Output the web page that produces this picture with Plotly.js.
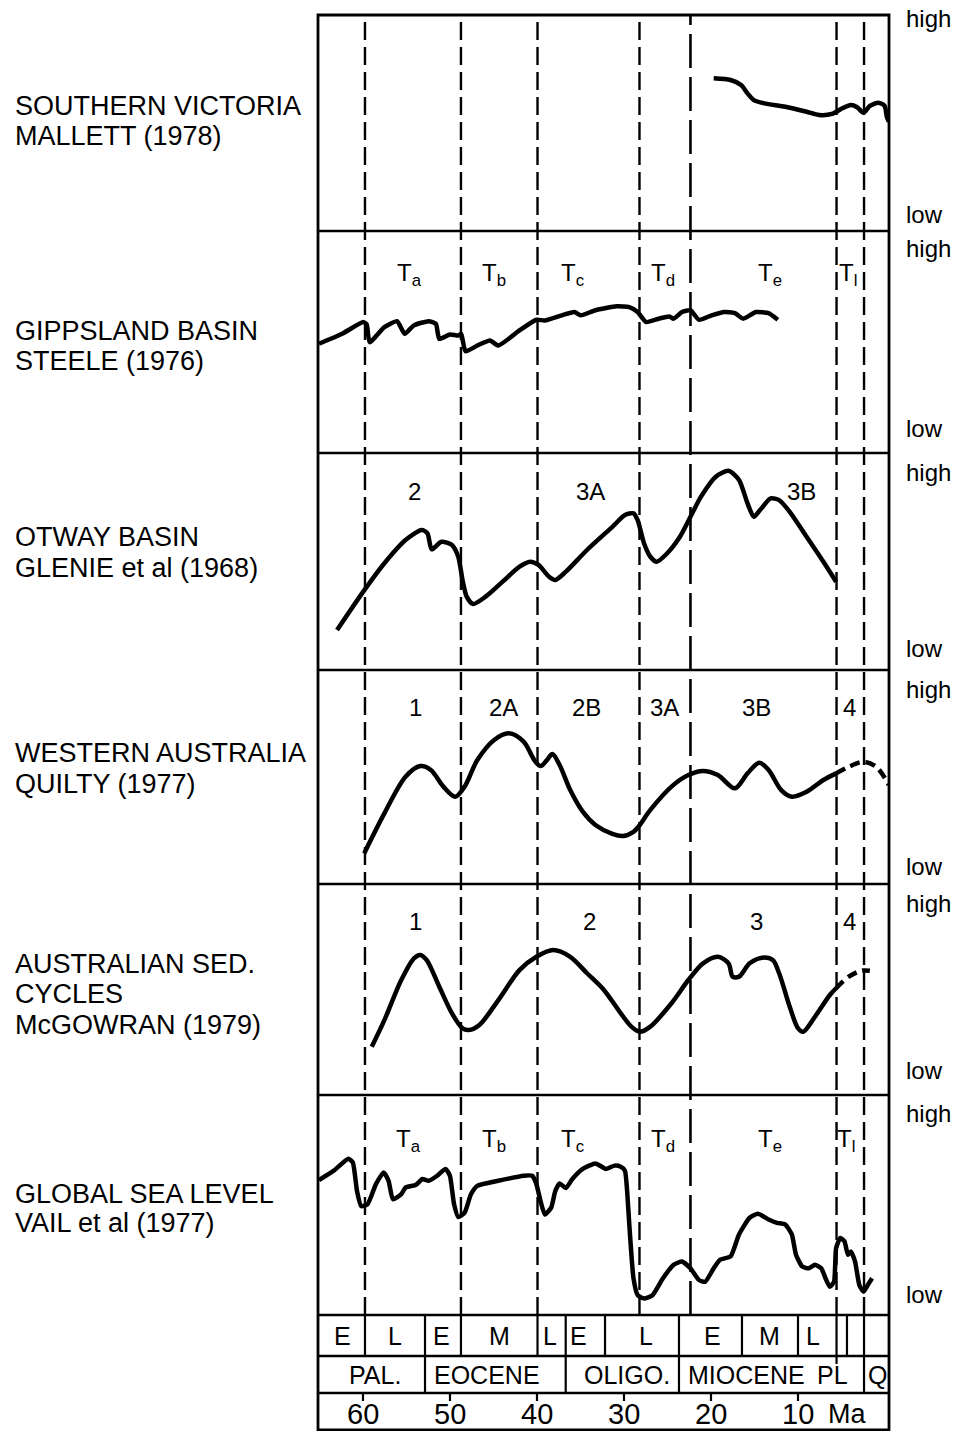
<!DOCTYPE html>
<html>
<head>
<meta charset="utf-8">
<script src="https://cdn.plot.ly/plotly-3.0.1.min.js"></script>
<style>
  html, body { margin: 0; padding: 0; background: #fff; }
  #chart { width: 962px; height: 1431px; }
</style>
</head>
<body>
<div id="chart"></div>
<script>
// ---------------- DATA (age in Ma, relative level 0 = low, 100 = high) ----------------
const southernVictoria = [[19.69,70.7],[17.75,69.9],[16.54,67.6],[15.80,63.7],[15.08,60.6],[13.87,59.1],[11.45,57.5],[9.01,55.2],[7.56,53.7],[6.10,54.2],[4.90,56.8],[3.92,58.3],[3.20,57.3],[2.47,54.8],[1.74,57.9],[0.77,59.4],[0.05,57.9],[-0.21,52.9],[-0.45,50.6]];

const gippsland = [[65.06,49.2],[62.39,53.7],[59.97,59.0],[59.57,57.9],[59.24,49.9],[57.54,56.7],[56.08,59.4],[55.21,53.7],[54.14,57.5],[52.45,59.4],[51.62,58.2],[51.23,51.4],[50.01,53.4],[49.05,52.9],[48.71,53.7],[48.22,45.8],[46.86,48.4],[45.40,50.7],[44.44,48.4],[42.01,55.2],[40.07,60.0],[39.10,59.7],[37.16,62.0],[35.70,63.5],[34.98,62.0],[33.28,64.3],[30.85,66.1],[29.39,65.7],[28.43,63.5],[27.46,59.0],[26.00,60.5],[24.78,61.5],[24.30,60.5],[23.33,63.5],[22.36,64.3],[21.39,60.0],[19.93,62.0],[18.48,63.5],[17.26,63.0],[16.30,60.5],[14.84,63.5],[13.38,63.0],[12.32,60.0]];

const otway = [[62.98,18.4],[59.97,36.1],[57.54,49.2],[55.11,59.9],[53.26,64.5],[52.59,63.0],[52.10,55.6],[50.99,59.1],[49.77,57.6],[49.05,52.2],[48.56,41.5],[48.08,33.8],[47.34,30.4],[45.90,33.8],[43.95,40.7],[42.01,47.6],[40.79,49.9],[39.83,48.4],[38.61,43.0],[37.89,41.5],[36.68,45.3],[34.25,55.3],[31.33,66.0],[29.89,71.4],[28.91,72.2],[28.43,69.1],[27.70,58.4],[26.97,52.2],[26.24,49.9],[25.03,53.8],[23.57,61.4],[22.36,70.6],[21.15,79.9],[19.45,89.1],[17.99,91.8],[16.78,87.6],[15.80,76.8],[15.08,70.6],[14.36,73.7],[13.14,79.1],[12.17,78.3],[10.95,72.9],[9.01,61.4],[7.08,49.9],[5.62,40.7]];

const westernAustralia = [[59.86,14.3],[57.54,33.0],[55.11,50.1],[53.41,55.1],[52.20,53.3],[50.75,45.5],[49.39,40.8],[48.32,45.5],[46.86,57.9],[44.92,67.3],[43.23,70.4],[41.53,66.5],[40.31,57.9],[39.59,55.1],[38.86,57.9],[38.23,60.7],[37.40,55.6],[36.18,43.9],[34.74,33.8],[33.28,27.6],[31.33,23.4],[30.13,22.4],[28.91,24.4],[28.33,26.8],[26.97,34.6],[24.54,45.5],[22.60,50.9],[20.91,52.8],[19.21,50.9],[17.26,44.7],[15.80,51.7],[14.45,56.7],[13.38,53.3],[11.93,43.9],[10.71,40.8],[9.01,43.1],[7.08,48.6],[5.62,51.7]];
const westernAustraliaInferred = [[5.62,51.7],[4.16,54.8],[2.47,57.1],[1.01,54.8],[-0.45,46.3]];

const sedCycles = [[58.99,22.9],[57.54,35.5],[55.60,54.5],[54.14,64.8],[53.41,66.4],[52.69,64.0],[51.23,51.3],[49.77,38.7],[48.56,31.6],[47.84,30.8],[46.62,33.2],[44.44,45.0],[42.01,59.2],[40.07,65.5],[38.13,68.7],[36.18,65.5],[34.25,57.7],[32.31,49.8],[30.37,38.7],[29.15,32.4],[28.18,30.0],[26.97,32.4],[24.54,43.5],[22.60,54.5],[20.91,62.4],[19.21,65.5],[17.99,62.4],[17.51,56.1],[16.78,56.1],[15.56,62.4],[14.11,65.1],[12.90,64.0],[12.17,57.7],[10.95,41.8],[9.99,31.6],[9.40,30.0],[8.05,37.1],[6.34,47.4],[5.62,50.6]];
const sedCyclesInferred = [[5.62,50.6],[4.16,56.1],[2.71,58.9],[1.74,58.9]];

const vailSeaLevel = [[65.06,61.3],[63.36,65.6],[61.67,71.0],[61.17,69.4],[60.69,56.4],[60.21,49.5],[59.48,50.3],[58.51,59.5],[57.63,64.8],[57.06,61.0],[56.56,52.6],[55.60,54.9],[55.11,57.9],[53.90,59.2],[53.17,61.8],[52.45,61.0],[51.47,63.3],[50.51,66.4],[50.01,63.3],[49.53,50.3],[49.05,44.5],[48.32,46.5],[47.59,54.9],[46.86,58.7],[44.44,61.0],[41.53,63.3],[40.55,63.3],[40.07,59.5],[39.59,51.8],[39.10,45.7],[38.37,48.8],[37.89,56.4],[37.40,59.8],[36.68,57.7],[35.94,61.8],[34.74,66.4],[33.28,68.9],[32.07,66.4],[31.09,67.9],[30.37,67.4],[29.89,65.6],[29.64,56.4],[29.39,41.1],[28.91,16.7],[28.43,9.0],[27.70,7.5],[26.72,9.0],[25.52,16.7],[24.30,22.8],[23.33,24.3],[22.36,21.2],[21.39,15.9],[20.67,15.1],[19.69,21.2],[18.97,25.1],[17.75,26.6],[16.78,36.6],[15.56,44.2],[14.60,46.0],[13.38,43.4],[12.41,41.9],[11.45,41.1],[10.71,36.6],[10.23,27.4],[9.51,22.0],[8.77,21.2],[8.05,22.8],[7.32,21.2],[6.84,16.7],[6.34,12.8],[5.86,15.1],[5.62,30.4],[5.14,35.0],[4.66,33.5],[4.26,27.4],[3.92,28.9],[3.44,24.3],[2.95,13.6],[2.47,10.6],[1.98,13.6],[1.49,16.7]];

const panelTitles = [
  ["SOUTHERN VICTORIA", "MALLETT (1978)"],
  ["GIPPSLAND BASIN", "STEELE (1976)"],
  ["OTWAY BASIN", "GLENIE et al (1968)"],
  ["WESTERN AUSTRALIA", "QUILTY (1977)"],
  ["AUSTRALIAN SED.", "CYCLES", "McGOWRAN (1979)"],
  ["GLOBAL SEA LEVEL", "VAIL et al (1977)"]
];

// zone labels: [text, age of label centre]
const zonesGippsland = [["T<sub>a</sub>",54.6],["T<sub>b</sub>",44.9],["T<sub>c</sub>",35.9],["T<sub>d</sub>",25.5],["T<sub>e</sub>",13.2],["T<sub>l</sub>",4.3]];
const zonesOtway = [["2",54.1],["3A",33.9],["3B",9.6]];
const zonesWA = [["1",54.0],["2A",43.8],["2B",34.3],["3A",25.3],["3B",14.8],["4",4.1]];
const zonesSed = [["1",54.0],["2",34.0],["3",14.8],["4",4.1]];
const zonesVail = [["T<sub>a</sub>",54.8],["T<sub>b</sub>",44.9],["T<sub>c</sub>",35.9],["T<sub>d</sub>",25.5],["T<sub>e</sub>",13.2],["T<sub>l</sub>",4.5]];

// stratigraphic boundaries (Ma)
const dashedBoundaries = [59.77, 48.74, 39.94, 28.22, 5.57, 2.41];
const longDashBoundary = 22.36;

// time-scale table
const subEpochBounds = [59.77, 52.87, 48.74, 39.94, 36.7, 32.18, 23.68, 16.44, 10.0, 5.57, 4.37, 2.41];
const subEpochLabels = [["E",62.3],["L",56.3],["E",51.0],["M",44.3],["L",38.5],["E",35.2],["L",27.5],["E",19.8],["M",13.3],["L",8.3]];
const epochBounds = [52.87, 36.7, 23.68, 2.41];
const epochLabels = [["PAL.",58.6],["EOCENE",45.7],["OLIGO.",29.7],["MIOCENE",15.9],["PL",6.0],["Q",0.9]];
const ageTicks = [60, 50, 40, 30, 20, 10];
const ageTickText = ["60", "50", "40", "30", "20", "10"];

// ---------------- LAYOUT HELPERS (pixel geometry) ----------------
const W = 962, H = 1431;
const L = 318, R = 889, T = 15, B = 1430;
const yp = py => (B - py) / (B - T);
const xp = px => (px - L) / (R - L);
const panelEdges = [15, 231, 453, 670, 884, 1095, 1315];
const tableRows = [1356, 1393];
const FONT = "Liberation Sans, Arial, sans-serif";

const series = [southernVictoria, gippsland, otway, westernAustralia, sedCycles, vailSeaLevel];
const smooth = [0.7, 0.5, 0.7, 0.9, 0.9, 0.5];
const ya = i => i === 0 ? 'y' : 'y' + (i + 1);

const traces = [];
series.forEach((pts, i) => {
  traces.push({
    x: pts.map(p => p[0]), y: pts.map(p => p[1]),
    xaxis: 'x', yaxis: ya(i), mode: 'lines', hoverinfo: 'skip',
    line: {color: '#000', width: 4.5, shape: 'spline', smoothing: smooth[i]}
  });
});
[[westernAustraliaInferred, 3], [sedCyclesInferred, 4]].forEach(([pts, i]) => {
  traces.push({
    x: pts.map(p => p[0]), y: pts.map(p => p[1]),
    xaxis: 'x', yaxis: ya(i), mode: 'lines', hoverinfo: 'skip',
    line: {color: '#000', width: 4.5, shape: 'spline', smoothing: 0.9, dash: '10px,6px'}
  });
});

const layout = {
  width: W, height: H,
  margin: {l: L, r: W - R, t: T, b: H - B, pad: 0},
  paper_bgcolor: '#fff', plot_bgcolor: '#fff',
  showlegend: false,
  xaxis: {range: [65.17, -0.46], visible: false, fixedrange: true, anchor: 'y6'},
  shapes: [], annotations: []
};
for (let i = 0; i < 6; i++) {
  layout['yaxis' + (i === 0 ? '' : i + 1)] = {
    domain: [yp(panelEdges[i + 1]), yp(panelEdges[i])],
    range: [0, 100], visible: false, fixedrange: true, anchor: 'x'
  };
}

const S = layout.shapes, A = layout.annotations;
const blk = w => ({color: '#000', width: w});
// outer frame
S.push({type: 'rect', xref: 'paper', yref: 'paper', x0: 0, x1: 1, y0: 0, y1: 1, line: blk(2.8)});
// horizontal separators
panelEdges.slice(1).concat(tableRows).forEach(py => {
  S.push({type: 'line', xref: 'paper', yref: 'paper', x0: 0, x1: 1, y0: yp(py), y1: yp(py), line: blk(2.5)});
});
// dashed boundary lines through the panels
dashedBoundaries.forEach(b => {
  S.push({type: 'line', xref: 'x', yref: 'paper', x0: b, x1: b, y0: yp(1315), y1: yp(15),
          line: {color: '#000', width: 2.4, dash: '18px,7px'}});
});
S.push({type: 'line', xref: 'x', yref: 'paper', x0: longDashBoundary, x1: longDashBoundary, y0: yp(1315), y1: yp(15),
        line: {color: '#000', width: 2.6, dash: '34px,9px'}});
// table dividers
subEpochBounds.forEach(b => {
  S.push({type: 'line', xref: 'x', yref: 'paper', x0: b, x1: b, y0: yp(1356), y1: yp(1315), line: blk(2.2)});
});
epochBounds.forEach(b => {
  S.push({type: 'line', xref: 'x', yref: 'paper', x0: b, x1: b, y0: yp(1393), y1: yp(1356), line: blk(2.2)});
});
S.push({type: 'line', xref: 'x', yref: 'paper', x0: 5.57, x1: 5.57, y0: yp(1364), y1: yp(1356), line: blk(2.2)});
ageTicks.forEach(t => {
  S.push({type: 'line', xref: 'x', yref: 'paper', x0: t, x1: t, y0: yp(1401), y1: yp(1393), line: blk(2.2)});
});

function txt(text, x, y, size, opts) {
  A.push(Object.assign({text: text, x: x, y: y, xref: 'paper', yref: 'paper', showarrow: false,
    xanchor: 'center', yanchor: 'middle', font: {family: FONT, size: size, color: '#000'}}, opts || {}));
}
// panel titles on the left
const titleY = [[106, 136], [331, 361], [537, 568], [753, 784], [964, 994, 1025], [1194, 1223]];
panelTitles.forEach((lines, i) => {
  lines.forEach((ln, j) => txt(ln, xp(13), yp(titleY[i][j]), 27, {xanchor: 'left'}));
});
// high / low
const highY = [19, 248, 473, 690, 903, 1113];
const lowY = [214, 428, 648, 866, 1070, 1294];
highY.forEach(y => txt('high', xp(904), yp(y), 24, {xanchor: 'left'}));
lowY.forEach(y => txt('low', xp(904), yp(y), 24, {xanchor: 'left'}));
// zone labels
function zones(list, py) {
  list.forEach(([t, age]) => A.push({text: t, x: age, y: yp(py), xref: 'x', yref: 'paper', showarrow: false,
    xanchor: 'center', yanchor: 'middle', font: {family: FONT, size: 24, color: '#000'}}));
}
zones(zonesGippsland, 275);
zones(zonesOtway, 491);
zones(zonesWA, 707);
zones(zonesSed, 921);
zones(zonesVail, 1140);
// table text
subEpochLabels.forEach(([t, age]) => A.push({text: t, x: age, y: yp(1336), xref: 'x', yref: 'paper', showarrow: false,
  xanchor: 'center', yanchor: 'middle', font: {family: FONT, size: 25, color: '#000'}}));
epochLabels.forEach(([t, age]) => A.push({text: t, x: age, y: yp(1375), xref: 'x', yref: 'paper', showarrow: false,
  xanchor: 'center', yanchor: 'middle', font: {family: FONT, size: 25, color: '#000'}}));
ageTicks.forEach((t, k) => A.push({text: ageTickText[k], x: t, y: yp(1414), xref: 'x', yref: 'paper', showarrow: false,
  xanchor: 'center', yanchor: 'middle', font: {family: FONT, size: 29, color: '#000'}}));
txt('Ma', xp(847), yp(1414), 27);

Plotly.newPlot('chart', traces, layout, {staticPlot: true, displayModeBar: false});
</script>
</body>
</html>
